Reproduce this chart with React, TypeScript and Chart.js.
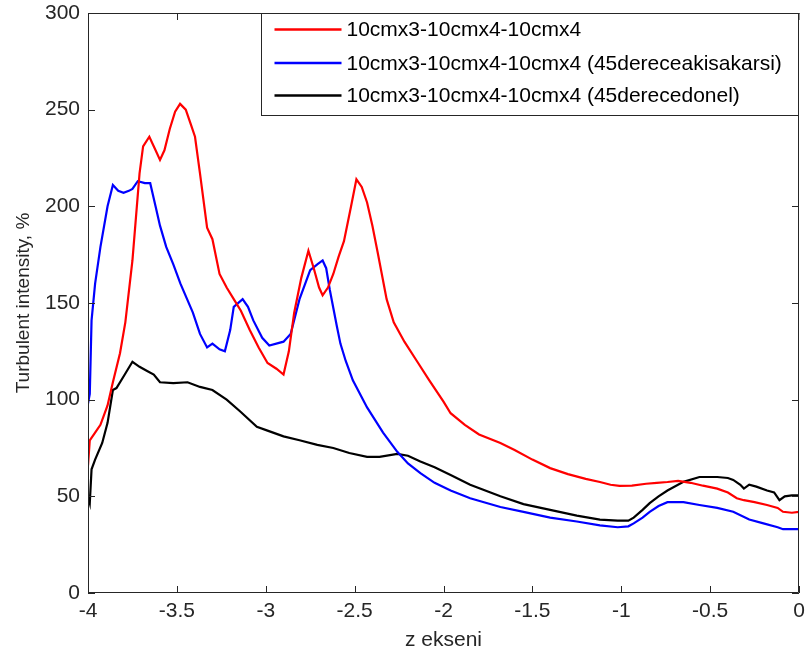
import React, { useEffect, useRef } from "react";
import { Chart, registerables } from "chart.js";

Chart.register(...registerables);

const seriesLabels = [
  "10cmx3-10cmx4-10cmx4",
  "10cmx3-10cmx4-10cmx4 (45dereceakisakarsi)",
  "10cmx3-10cmx4-10cmx4 (45derecedonel)",
];
const seriesColors = ["#ff0000", "#0000ff", "#000000"];

const redX = [-4.0, -3.99, -3.96, -3.93, -3.89, -3.86, -3.82, -3.79, -3.75, -3.71, -3.69, -3.655, -3.625, -3.595, -3.57, -3.54, -3.51, -3.482, -3.45, -3.42, -3.398, -3.37, -3.33, -3.30, -3.26, -3.22, -3.18, -3.14, -3.09, -3.04, -2.99, -2.94, -2.90, -2.87, -2.84, -2.80, -2.76, -2.73, -2.70, -2.68, -2.65, -2.62, -2.59, -2.56, -2.52, -2.49, -2.46, -2.43, -2.40, -2.37, -2.32, -2.28, -2.22, -2.15, -2.08, -2.0, -1.96, -1.88, -1.80, -1.68, -1.60, -1.50, -1.40, -1.30, -1.20, -1.12, -1.06, -1.01, -0.94, -0.86, -0.80, -0.74, -0.68, -0.61, -0.54, -0.46, -0.40, -0.35, -0.31, -0.25, -0.18, -0.12, -0.09, -0.04, 0.0];
const redY = [66, 79, 83, 87, 97, 109, 124, 140, 172, 217, 231, 236, 230, 224, 229, 240, 249, 253, 250, 242, 236, 217, 189, 183, 165, 158, 152, 146, 136, 127, 119, 116, 113, 125, 145, 163, 177, 168, 158, 154, 158, 165, 174, 182, 200, 214, 210, 202, 190, 176, 152, 140, 130, 120, 110, 99, 93, 87, 82, 77.6, 74, 69, 64.6, 61.5, 59, 57.4, 56, 55.4, 55.5, 56.5, 57, 57.4, 58, 57, 55.5, 54, 52, 49, 48, 47, 45.5, 44, 42, 41.5, 42];

const blueX = [-4.0, -3.99, -3.98, -3.96, -3.93, -3.89, -3.86, -3.83, -3.80, -3.77, -3.75, -3.72, -3.68, -3.65, -3.62, -3.595, -3.56, -3.52, -3.48, -3.41, -3.37, -3.33, -3.30, -3.26, -3.23, -3.20, -3.18, -3.13, -3.10, -3.07, -3.02, -2.98, -2.90, -2.86, -2.81, -2.75, -2.71, -2.68, -2.66, -2.64, -2.60, -2.58, -2.55, -2.51, -2.43, -2.34, -2.26, -2.20, -2.13, -2.05, -1.96, -1.85, -1.68, -1.55, -1.40, -1.25, -1.12, -1.02, -0.96, -0.93, -0.88, -0.84, -0.79, -0.74, -0.65, -0.56, -0.46, -0.37, -0.28, -0.20, -0.12, -0.09, -0.05, 0.0];
const blueY = [98, 103, 141, 160, 179, 200, 211, 208, 207, 208, 209, 213, 212, 212, 200, 190, 179, 170, 160, 145, 134, 127, 129, 126, 125, 136, 148, 152, 148, 141, 132, 128, 130, 134, 152, 167, 170, 172, 168, 157, 138, 129, 120, 110, 96, 83, 73, 67, 62, 57, 53, 49, 44.5, 42, 39, 37, 35, 34, 34.5, 36, 39, 42, 45, 47, 47, 45.5, 44, 42, 38, 36, 34, 33, 33, 33];

const blackX = [-4.0, -3.99, -3.98, -3.96, -3.92, -3.89, -3.86, -3.84, -3.80, -3.75, -3.71, -3.67, -3.63, -3.595, -3.52, -3.44, -3.37, -3.30, -3.22, -3.145, -3.05, -2.99, -2.90, -2.81, -2.71, -2.62, -2.53, -2.43, -2.36, -2.26, -2.20, -2.13, -2.05, -1.96, -1.85, -1.68, -1.55, -1.40, -1.25, -1.12, -1.02, -0.96, -0.93, -0.88, -0.84, -0.79, -0.74, -0.65, -0.56, -0.46, -0.40, -0.37, -0.33, -0.31, -0.28, -0.24, -0.18, -0.14, -0.11, -0.08, -0.04, 0.0];
const blackY = [50, 46.5, 64, 69, 77.6, 88, 105, 106, 112, 119.6, 117, 115, 113, 109, 108.6, 109, 106.6, 105, 100, 94, 86, 84, 81, 79, 76.6, 75, 72.4, 70.4, 70.4, 72, 71, 68, 65, 61, 56, 50, 46, 43, 40, 38, 37.4, 37.4, 39, 43, 46.5, 50, 53, 57.5, 60, 60, 59.5, 58.5, 56, 54, 56, 55, 53, 52, 48, 50, 50.5, 50.5];

const xTickValues = [-4, -3.5, -3, -2.5, -2, -1.5, -1, -0.5, 0];
const yTickValues = [0, 50, 100, 150, 200, 250, 300];
const xTitle = "z ekseni";
const yTitle = "Turbulent intensity, %";

const FONT = "'Liberation Sans', Arial, sans-serif";
const AXIS_COLOR = "#262626";

function pts(xs: number[], ys: number[]) {
  return xs.map((x, i) => ({ x, y: ys[i] }));
}

const framePlugin = {
  id: "matlabFrame",
  afterDatasetsDraw(chart: any) {
    const { ctx, chartArea, scales } = chart;
    const { left, right, top, bottom } = chartArea;
    ctx.save();
    ctx.strokeStyle = AXIS_COLOR;
    ctx.lineWidth = 1;
    ctx.beginPath();
    ctx.rect(Math.round(left) + 0.5, Math.round(top) + 0.5, Math.round(right - left) - 1, Math.round(bottom - top) - 1);
    ctx.stroke();
    const tl = 7;
    ctx.beginPath();
    xTickValues.forEach((v) => {
      const px = Math.round(scales.x.getPixelForValue(v)) + 0.5;
      ctx.moveTo(px, bottom);
      ctx.lineTo(px, bottom - tl);
      ctx.moveTo(px, top);
      ctx.lineTo(px, top + tl);
    });
    yTickValues.forEach((v) => {
      const py = Math.round(scales.y.getPixelForValue(v)) + 0.5;
      ctx.moveTo(left, py);
      ctx.lineTo(left + tl, py);
      ctx.moveTo(right, py);
      ctx.lineTo(right - tl, py);
    });
    ctx.stroke();

    // legend box
    const lw = 538;
    const lh = 102;
    const lx = Math.round(right - lw) + 0.5;
    const ly = Math.round(top) + 0.5;
    ctx.fillStyle = "#ffffff";
    ctx.fillRect(lx, ly, lw, lh);
    ctx.strokeStyle = AXIS_COLOR;
    ctx.strokeRect(lx, ly, lw - 1, lh);
    const rows = [16, 49.5, 82];
    ctx.font = `21px ${FONT}`;
    ctx.textBaseline = "middle";
    ctx.textAlign = "left";
    seriesLabels.forEach((lab, i) => {
      const yy = ly + rows[i];
      ctx.strokeStyle = seriesColors[i];
      ctx.lineWidth = 2.5;
      ctx.beginPath();
      ctx.moveTo(lx + 13, yy);
      ctx.lineTo(lx + 80, yy);
      ctx.stroke();
      ctx.fillStyle = "#000000";
      ctx.fillText(lab, lx + 85, yy + 1);
    });
    ctx.restore();
  },
};

export default function App() {
  const ref = useRef<HTMLCanvasElement | null>(null);
  useEffect(() => {
    if (!ref.current) return;
    const datasets = [
      { label: seriesLabels[0], data: pts(redX, redY) },
      { label: seriesLabels[1], data: pts(blueX, blueY) },
      { label: seriesLabels[2], data: pts(blackX, blackY) },
    ].map((d, i) => ({
      ...d,
      borderColor: seriesColors[i],
      backgroundColor: seriesColors[i],
      borderWidth: 2.2,
      pointRadius: 0,
      tension: 0,
      fill: false,
    }));
    const chart = new Chart(ref.current, {
      type: "line",
      data: { datasets },
      options: {
        responsive: false,
        animation: false,
        events: [],
        layout: { padding: { left: 0, right: 6, top: 13, bottom: 0 } },
        plugins: { legend: { display: false }, tooltip: { enabled: false } },
        scales: {
          x: {
            type: "linear",
            min: -4,
            max: 0,
            grid: { display: false, drawTicks: false },
            border: { display: false },
            afterBuildTicks: (s: any) => {
              s.ticks = xTickValues.map((v) => ({ value: v }));
            },
            afterFit: (s: any) => {
              s.height = 64;
              s.paddingLeft = 0;
              s.paddingRight = 0;
            },
            ticks: {
              color: AXIS_COLOR,
              font: { family: FONT, size: 21 },
              padding: 6,
              maxRotation: 0,
              autoSkip: false,
              callback: (v: any) => String(v),
            },
            title: {
              display: true,
              text: xTitle,
              color: AXIS_COLOR,
              font: { family: FONT, size: 21 },
              padding: { top: 0, bottom: 4 },
            },
          },
          y: {
            type: "linear",
            min: 0,
            max: 300,
            grid: { display: false, drawTicks: false },
            border: { display: false },
            afterBuildTicks: (s: any) => {
              s.ticks = yTickValues.map((v) => ({ value: v }));
            },
            afterFit: (s: any) => {
              s.width = 88;
              s.paddingTop = 0;
              s.paddingBottom = 0;
            },
            ticks: {
              color: AXIS_COLOR,
              font: { family: FONT, size: 21 },
              padding: 8,
              autoSkip: false,
              callback: (v: any) => String(v),
            },
            title: {
              display: true,
              text: yTitle,
              color: AXIS_COLOR,
              font: { family: FONT, size: 19 },
              padding: { top: 12, bottom: 0 },
            },
          },
        },
      },
      plugins: [framePlugin],
    } as any);
    return () => chart.destroy();
  }, []);
  return (
    <div style={{ position: "absolute", left: 0, top: 0, width: 805, height: 657, background: "#fff" }}>
      <canvas ref={ref} width={805} height={657} style={{ display: "block" }} />
    </div>
  );
}
